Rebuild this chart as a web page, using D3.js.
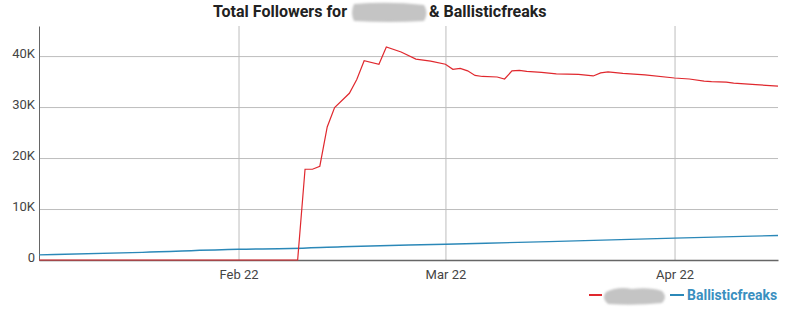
<!DOCTYPE html>
<html>
<head>
<meta charset="utf-8">
<script src="https://cdn.jsdelivr.net/npm/d3@7"></script>
<style>
  body { margin: 0; background: #fff; }
  text { font-family: Roboto, "Noto Sans", sans-serif; }
</style>
</head>
<body>
<div id="chart"></div>
<script>
// Red series (name redacted in the original)
var redDates = ["2022-01-05", "2022-02-09", "2022-02-10", "2022-02-11", "2022-02-12", "2022-02-13",
  "2022-02-14", "2022-02-16", "2022-02-17", "2022-02-18", "2022-02-20", "2022-02-21", "2022-02-23",
  "2022-02-25", "2022-02-27", "2022-03-01", "2022-03-02", "2022-03-03", "2022-03-04", "2022-03-05",
  "2022-03-06", "2022-03-08", "2022-03-09", "2022-03-10", "2022-03-11", "2022-03-12", "2022-03-14",
  "2022-03-16", "2022-03-19", "2022-03-21", "2022-03-22", "2022-03-23", "2022-03-25", "2022-03-28",
  "2022-04-01", "2022-04-03", "2022-04-05", "2022-04-06", "2022-04-08", "2022-04-09", "2022-04-12",
  "2022-04-15"];
var redValues = [0, 0, 17800, 17800, 18400, 26100,
  29900, 32700, 35400, 39100, 38400, 41800, 40800,
  39400, 39000, 38400, 37400, 37600, 37100, 36200,
  36000, 35900, 35500, 37100, 37200, 37000, 36800,
  36500, 36400, 36100, 36700, 36900, 36600, 36300,
  35700, 35500, 35100, 35000, 34900, 34700, 34400,
  34100];

// Ballisticfreaks
var blueDates = ["2022-01-05", "2022-01-19", "2022-02-01", "2022-02-08", "2022-02-15", "2022-03-01",
  "2022-03-15", "2022-04-01", "2022-04-15"];
var blueValues = [1000, 1500, 2100, 2250, 2600, 3100, 3600, 4300, 4800];

var yTicks = [0, 10000, 20000, 30000, 40000];
var seriesNames = ["", "Ballisticfreaks"];
var seriesColors = ["#e0282e", "#2b88b8"];

var W = 804, H = 315;
var margin = { top: 26, right: 26, bottom: 55, left: 39 },
  width = W - margin.left - margin.right,
  height = H - margin.top - margin.bottom;

var parse = d3.timeParse("%Y-%m-%d");
var red = redDates.map(function (d, i) { return { date: parse(d), value: redValues[i] } });
var blue = blueDates.map(function (d, i) { return { date: parse(d), value: blueValues[i] } });

var svgRoot = d3.select("#chart")
  .append("svg")
  .attr("width", W)
  .attr("height", H);

// blur for the redacted name blobs
var defs = svgRoot.append("defs");
defs.append("filter").attr("id", "blur")
  .attr("x", "-20%").attr("y", "-40%").attr("width", "140%").attr("height", "180%")
  .append("feGaussianBlur").attr("stdDeviation", 1.2);

var svg = svgRoot.append("g")
  .attr("transform", "translate(" + margin.left + "," + margin.top + ")");

var x = d3.scaleTime()
  .domain([parse("2022-01-05"), parse("2022-04-15")])
  .range([0, width]);

var y = d3.scaleLinear()
  .domain([0, 45900])
  .range([height, 0]);

// gridlines
svg.append("g")
  .attr("class", "grid")
  .call(d3.axisLeft(y).tickValues(yTicks).tickSize(-width).tickFormat(""))
  .call(function (g) { g.select(".domain").remove() })
  .selectAll("line").attr("stroke", "#bdbdbd");

svg.append("g")
  .attr("class", "grid")
  .attr("transform", "translate(0," + height + ")")
  .call(d3.axisBottom(x).ticks(d3.timeMonth.every(1)).tickSize(-height).tickFormat(""))
  .call(function (g) { g.select(".domain").remove() })
  .selectAll("line").attr("stroke", "#bdbdbd");

// axes
var yAxis = svg.append("g")
  .call(d3.axisLeft(y).tickValues(yTicks).tickSize(0).tickPadding(4)
    .tickFormat(function (d) { return d === 0 ? "0" : (d / 1000) + "K" }));
yAxis.select(".domain").attr("stroke", "#666");
yAxis.selectAll("text").attr("font-size", 13).attr("fill", "#444").attr("dy", "0.1em");

var xAxis = svg.append("g")
  .attr("transform", "translate(0," + height + ")")
  .call(d3.axisBottom(x).ticks(d3.timeMonth.every(1)).tickSize(0).tickPadding(10)
    .tickFormat(d3.timeFormat("%b %y")));
xAxis.select(".domain").attr("stroke", "#666").attr("stroke-width", 1.5);
xAxis.selectAll("text").attr("font-size", 13).attr("fill", "#444");

// lines
var line = d3.line()
  .x(function (d) { return x(d.date) })
  .y(function (d) { return y(d.value) });

svg.append("path")
  .datum(blue)
  .attr("d", line.curve(d3.curveMonotoneX))
  .attr("fill", "none")
  .attr("stroke", seriesColors[1])
  .attr("stroke-width", 1.4);

svg.append("path")
  .datum(red)
  .attr("d", line.curve(d3.curveLinear))
  .attr("fill", "none")
  .attr("stroke", seriesColors[0])
  .attr("stroke-width", 1.2);

// title
var title = svgRoot.append("g").attr("font-weight", "bold").attr("font-size", 16).attr("fill", "#222");
title.append("text").attr("x", 347).attr("y", 17).attr("text-anchor", "end").text("Total Followers for");
title.append("path")
  .attr("d", "M354,4 Q390,1 424,5 Q429,13 424,21 Q390,23 354,21 Q350,13 354,4 Z")
  .attr("fill", "#c4c4c4").attr("filter", "url(#blur)");
title.append("text").attr("x", 429).attr("y", 17).text("& Ballisticfreaks");

// legend
var lg = svgRoot.append("g").attr("transform", "translate(0,295)");
lg.append("line").attr("x1", 589).attr("x2", 602).attr("stroke", seriesColors[0]).attr("stroke-width", 2);
lg.append("path")
  .attr("d", "M606,-3 Q618,-9 632,-6 Q650,-8 662,-4 Q668,2 662,8 Q635,11 608,9 Q601,3 606,-3 Z")
  .attr("fill", "#c4c4c4").attr("filter", "url(#blur)");
lg.append("line").attr("x1", 670).attr("x2", 684).attr("stroke", seriesColors[1]).attr("stroke-width", 2);
lg.append("text").attr("x", 687).attr("y", 5)
  .attr("font-size", 14).attr("font-weight", "bold").attr("fill", "#3a8fbf")
  .text(seriesNames[1]);
</script>
</body>
</html>
